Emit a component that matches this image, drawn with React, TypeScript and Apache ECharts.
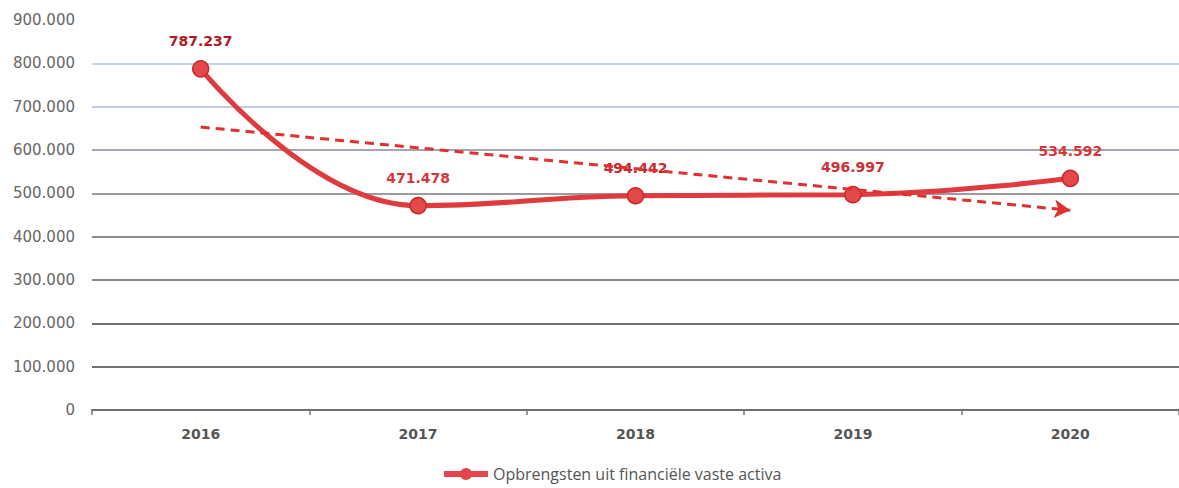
import React, { useEffect, useRef } from "react";
import * as echarts from "echarts";

const categories = ["2016", "2017", "2018", "2019", "2020"];
const values = [787237, 471478, 494442, 496997, 534592];
const valueLabels = ["787.237", "471.478", "494.442", "496.997", "534.592"];
const labelColors = ["#b3191f", "#d6363a", "#c8282d", "#d02e33", "#d6363a"];
const trendStart = 653000;
const trendEnd = 461000;
const yTickLabels = ["0", "100.000", "200.000", "300.000", "400.000", "500.000", "600.000", "700.000", "800.000", "900.000"];
const seriesName = "Opbrengsten uit financiële vaste activa";

export default function App() {
  const ref = useRef<HTMLDivElement>(null);
  useEffect(() => {
    if (!ref.current) return;
    const chart = echarts.init(ref.current, null, { renderer: "svg" });
    chart.setOption({
      animation: false,
      backgroundColor: "#ffffff",
      grid: { left: 92, right: -2, top: 20, bottom: 78 },
      legend: {
        bottom: 1,
        left: 436,
        itemWidth: 44,
        itemHeight: 15,
        itemGap: 4,
        lineStyle: { width: 6, color: "#e5454a" },
        itemStyle: { color: "#e5454a", borderWidth: 0 },
        textStyle: { fontFamily: "Open Sans", fontSize: 16, color: "#555" },
        data: [seriesName],
      },
      xAxis: {
        type: "category",
        data: categories,
        boundaryGap: true,
        axisLine: { show: true, lineStyle: { color: "#6f6f6f", width: 2 } },
        axisTick: { show: true, length: 5, lineStyle: { color: "#777", width: 1.5 } },
        axisLabel: {
          margin: 17,
          fontFamily: "DejaVu Sans",
          fontWeight: "bold",
          fontSize: 14,
          color: "#555",
        },
      },
      yAxis: {
        type: "value",
        min: 0,
        max: 900000,
        interval: 100000,
        axisLine: { show: false },
        axisTick: { show: false },
        axisLabel: {
          margin: 17,
          fontFamily: "DejaVu Sans",
          fontSize: 15,
          color: "#666",
          formatter: (v: number) => yTickLabels[Math.round(v / 100000)],
        },
        splitLine: {
          show: true,
          lineStyle: {
            width: 2,
            color: ["#6f6f6f", "#727272", "#707070", "#858589", "#8a8a90", "#9a9aa2", "#a6a6b2", "#c3cbe8", "#c6d0f0", "rgba(0,0,0,0)"],
          },
        },
      },
      series: [
        {
          name: seriesName,
          type: "line",
          data: values.map((v, i) => ({
            value: v,
            label: { color: labelColors[i] },
          })),
          smooth: 0.45,
          symbol: "circle",
          symbolSize: 16,
          lineStyle: { color: "#df3a3e", width: 5 },
          itemStyle: { color: "#e5484a", borderColor: "#c7282c", borderWidth: 1.5 },
          label: {
            show: true,
            position: "top",
            distance: 12,
            fontFamily: "DejaVu Sans",
            fontWeight: "bold",
            fontSize: 14,
            formatter: (p: any) => valueLabels[p.dataIndex],
          },
          z: 3,
          markLine: {
            silent: true,
            symbol: ["none", "arrow"],
            symbolSize: [14, 16],
            label: { show: false },
            lineStyle: { color: "#e0302f", width: 3, type: [9, 6] },
            data: [
              [
                { coord: [categories[0], trendStart] },
                { coord: [categories[categories.length - 1], trendEnd] },
              ],
            ],
          },
        },
      ],
    });
    return () => chart.dispose();
  }, []);
  return (
    <div
      ref={ref}
      style={{ position: "fixed", left: 0, top: 0, width: 1179, height: 488, background: "#fff" }}
    />
  );
}
